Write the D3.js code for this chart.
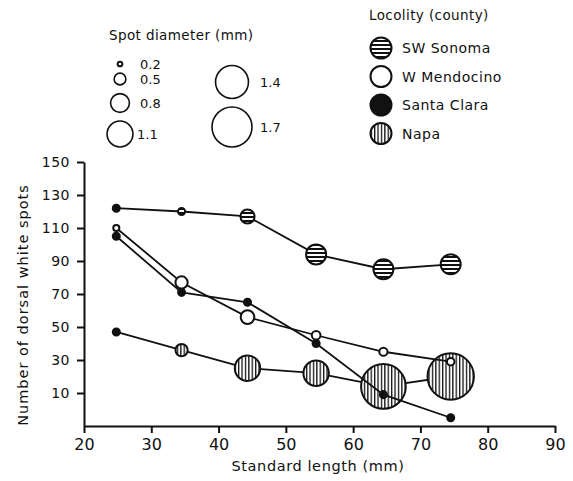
<!DOCTYPE html>
<html>
<head>
<meta charset="utf-8">
<script src="https://cdn.jsdelivr.net/npm/d3@7"></script>
<style>
  body { margin: 0; background: #fff; }
  svg text { font-family: "DejaVu Sans", sans-serif; fill: #111; }
</style>
</head>
<body>
<div id="chart"></div>
<script>
// standard length (mm) of each sample group
const lengths = [24.8, 34.5, 44.3, 54.5, 64.5, 74.5];

// number of dorsal white spots per county
const sonoma = [122, 120, 117, 94, 85, 88];
const mendocino = [110, 77, 56, 45, 35, 29];
const santaClara = [105, 71, 65, 40, 9, -5];
const napa = [47, 36, 25, 22, 14, 20];

// spot diameter (mm) per point
const sonomaDiam = [0.3, 0.3, 0.6, 0.85, 0.85, 0.85];
const mendocinoDiam = [0.26, 0.52, 0.58, 0.37, 0.35, 0.32];
const santaClaraDiam = [0.3, 0.3, 0.3, 0.3, 0.3, 0.3];
const napaDiam = [0.3, 0.52, 1.08, 1.08, 1.9, 1.97];

const xTicks = [20, 30, 40, 50, 60, 70, 80, 90];
const yTicks = [10, 30, 50, 70, 90, 110, 130, 150];

const sizeLegend = [0.2, 0.5, 0.8, 1.1, 1.4, 1.7];
const countyNames = ["SW Sonoma", "W Mendocino", "Santa Clara", "Napa"];

const W = 573, H = 481;

const svg = d3.select("#chart").append("svg")
    .attr("width", W)
    .attr("height", H);

// hatch patterns
const defs = svg.append("defs");
const hp = defs.append("pattern")
    .attr("id", "hstripe")
    .attr("patternUnits", "userSpaceOnUse")
    .attr("width", 4).attr("height", 4);
hp.append("rect").attr("width", 4).attr("height", 4).attr("fill", "#fff");
hp.append("rect").attr("width", 4).attr("height", 2).attr("fill", "#111");

const vp = defs.append("pattern")
    .attr("id", "vstripe")
    .attr("patternUnits", "userSpaceOnUse")
    .attr("width", 3.4).attr("height", 4);
vp.append("rect").attr("width", 3.4).attr("height", 4).attr("fill", "#fff");
vp.append("rect").attr("width", 1.3).attr("height", 4).attr("fill", "#111");

const fills = {
  "SW Sonoma": "url(#hstripe)",
  "W Mendocino": "#fff",
  "Santa Clara": "#111",
  "Napa": "url(#vstripe)"
};

const x = d3.scaleLinear().domain([20, 90]).range([84, 555]);
const y = d3.scaleLinear().domain([-10, 150]).range([426, 162]);
const r = d3.scaleLinear().domain([0, 1.7]).range([0, 20]);

// axes
const xAxis = svg.append("g")
    .attr("transform", `translate(0,${y(-10)})`)
    .call(d3.axisBottom(x).tickValues(xTicks).tickSize(7).tickSizeOuter(0).tickPadding(6));
const yAxis = svg.append("g")
    .attr("transform", `translate(${x(20)},0)`)
    .call(d3.axisLeft(y).tickValues(yTicks).tickSize(7).tickSizeOuter(0).tickPadding(7));

[xAxis, yAxis].forEach(g => {
  g.select(".domain").attr("stroke", "#111").attr("stroke-width", 2);
  g.selectAll(".tick line").attr("stroke", "#111").attr("stroke-width", 2);
  g.selectAll("text").attr("font-family", "DejaVu Sans, sans-serif").attr("fill", "#111");
});
xAxis.selectAll("text").attr("font-size", 16);
yAxis.selectAll("text").attr("font-size", 14).attr("letter-spacing", 0.5);

svg.append("text")
    .attr("x", 318).attr("y", 471)
    .attr("text-anchor", "middle")
    .attr("font-size", 14.5)
    .attr("letter-spacing", 0.6)
    .text("Standard length (mm)");

svg.append("text")
    .attr("transform", "translate(28,305) rotate(-90)")
    .attr("text-anchor", "middle")
    .attr("font-size", 14.5)
    .attr("letter-spacing", 1)
    .text("Number of dorsal white spots");

// series
const series = [
  {name: "Napa", values: napa, diam: napaDiam},
  {name: "Santa Clara", values: santaClara, diam: santaClaraDiam},
  {name: "W Mendocino", values: mendocino, diam: mendocinoDiam},
  {name: "SW Sonoma", values: sonoma, diam: sonomaDiam}
];

const line = d3.line()
    .x(d => x(d.len))
    .y(d => y(d.val));

series.forEach(s => {
  const pts = lengths.map((len, i) => ({len, val: s.values[i], d: s.diam[i], i}));
  const g = svg.append("g");
  g.append("path")
      .datum(pts)
      .attr("d", line)
      .attr("fill", "none")
      .attr("stroke", "#111")
      .attr("stroke-width", 1.8);
  g.selectAll("circle")
    .data(pts)
    .join("circle")
      .attr("cx", d => x(d.len))
      .attr("cy", d => y(d.val))
      .attr("r", d => r(d.d))
      // first hatched point is too small to show the hatching
      .attr("fill", d => (d.i === 0 && s.name !== "W Mendocino") ? "#111" : fills[s.name])
      .attr("stroke", "#111")
      .attr("stroke-width", 2);
});

// spot diameter legend
svg.append("text")
    .attr("x", 109).attr("y", 40)
    .attr("font-size", 13.5)
    .attr("letter-spacing", 0.4)
    .text("Spot diameter (mm)");

const sizePos = [
  {cx: 120, cy: 64, lx: 140},
  {cx: 120, cy: 79, lx: 140},
  {cx: 120, cy: 103, lx: 140},
  {cx: 120, cy: 134, lx: 137},
  {cx: 232, cy: 82, lx: 260},
  {cx: 232, cy: 127, lx: 260}
];
const sizeG = svg.append("g");
sizeLegend.forEach((v, i) => {
  const p = sizePos[i];
  sizeG.append("circle")
      .attr("cx", p.cx).attr("cy", p.cy)
      .attr("r", r(v))
      .attr("fill", "#fff")
      .attr("stroke", "#111")
      .attr("stroke-width", v < 0.3 ? 2 : 1.6);
  sizeG.append("text")
      .attr("x", p.lx).attr("y", p.cy)
      .attr("dy", "0.36em")
      .attr("font-size", 13)
      .text(d3.format(".1f")(v));
});

// locality legend
svg.append("text")
    .attr("x", 369).attr("y", 20)
    .attr("font-size", 13.5)
    .attr("letter-spacing", 0.4)
    .text("Locolity (county)");

const locG = svg.append("g");
countyNames.forEach((name, i) => {
  const cy = 48 + i * 28.5;
  locG.append("circle")
      .attr("cx", 381).attr("cy", cy)
      .attr("r", 10.5)
      .attr("fill", fills[name])
      .attr("stroke", "#111")
      .attr("stroke-width", 2);
  locG.append("text")
      .attr("x", 402).attr("y", cy)
      .attr("dy", "0.36em")
      .attr("font-size", 14)
      .attr("letter-spacing", 0.5)
      .text(name);
});
</script>
</body>
</html>
